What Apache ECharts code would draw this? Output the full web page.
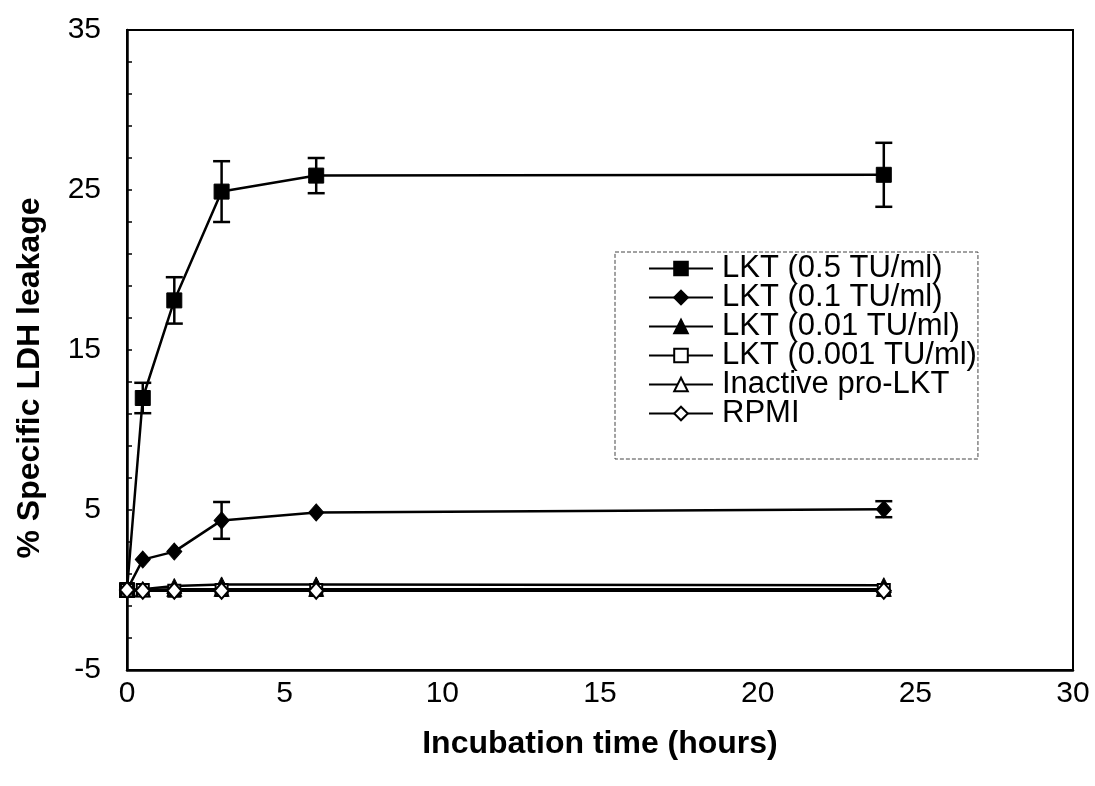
<!DOCTYPE html>
<html>
<head>
<meta charset="utf-8">
<title>Specific LDH leakage over incubation time</title>
<script src="https://cdn.jsdelivr.net/npm/echarts@6/dist/echarts.min.js"></script>
<style>
  html, body { margin: 0; padding: 0; background: #fff; }
  #chart { width: 1095px; height: 786px; }
</style>
</head>
<body>
<div id="chart"></div>
<script>
// Incubation times (hours)
const timeHours = [0, 0.5, 1.5, 3, 6, 24];

// % specific LDH leakage per treatment
const lkt05 = [0, 12.0, 18.1, 24.9, 25.9, 25.95];
const lkt05Err = [0, 0.95, 1.45, 1.9, 1.1, 2.0];
const lkt01 = [0, 1.9, 2.4, 4.35, 4.85, 5.05];
const lkt01Err = [0, 0, 0, 1.15, 0, 0.5];
const lkt001 = [0, 0.05, 0.25, 0.35, 0.35, 0.3];
const lkt0001 = [0, 0, -0.05, 0, 0, 0];
const proLkt = [0, 0, 0.05, 0.05, 0.05, 0.05];
const rpmi = [0, -0.05, -0.05, -0.05, -0.05, -0.05];

const seriesNames = [
  'LKT (0.5 TU/ml)',
  'LKT (0.1 TU/ml)',
  'LKT (0.01 TU/ml)',
  'LKT (0.001 TU/ml)',
  'Inactive pro-LKT',
  'RPMI'
];

// Axis tick labels and tick marks
const xTickLabels = [0, 5, 10, 15, 20, 25, 30];
const yTickLabels = [-5, 5, 15, 25, 35];
const yTickMarks = [-5, -3, -1, 1, 3, 5, 7, 9, 11, 13, 15, 17, 19, 21, 23, 25, 27, 29, 31, 33, 35];

const FONT = 'Liberation Sans, Arial, Helvetica, sans-serif';

function pairs(values) {
  return timeHours.map((t, i) => [t, values[i]]);
}

function errData(values, errs) {
  return timeHours.map((t, i) => [t, values[i], errs[i]]).filter(d => d[2] > 0);
}

// Vertical error bar with horizontal caps
function renderErrorBar(params, api) {
  const x = api.value(0);
  const y = api.value(1);
  const e = api.value(2);
  const hi = api.coord([x, y + e]);
  const lo = api.coord([x, y - e]);
  const cap = 8.5;
  const style = { stroke: '#000', lineWidth: 2.5 };
  return {
    type: 'group',
    children: [
      { type: 'line', shape: { x1: hi[0], y1: hi[1], x2: lo[0], y2: lo[1] }, style },
      { type: 'line', shape: { x1: hi[0] - cap, y1: hi[1], x2: hi[0] + cap, y2: hi[1] }, style },
      { type: 'line', shape: { x1: lo[0] - cap, y1: lo[1], x2: lo[0] + cap, y2: lo[1] }, style }
    ]
  };
}

function lineSeries(name, values, symbol, size, filled, z) {
  return {
    name,
    type: 'line',
    data: pairs(values),
    symbol,
    symbolSize: size,
    showAllSymbol: true,
    z,
    lineStyle: { color: '#000', width: 2.5 },
    itemStyle: filled
      ? { color: '#000', borderColor: '#000', borderWidth: 1 }
      : { color: '#fff', borderColor: '#000', borderWidth: 2 },
    emphasis: { disabled: true }
  };
}

const chart = echarts.init(document.getElementById('chart'));

chart.setOption({
  animation: false,
  backgroundColor: '#fff',
  grid: {
    left: 127, right: 22, top: 30, bottom: 116,
    show: true, borderColor: '#000', borderWidth: 2
  },
  xAxis: {
    type: 'value',
    min: 0, max: 30, interval: 5,
    axisLine: { onZero: false, lineStyle: { color: '#000', width: 2.5 } },
    axisTick: { show: false },
    splitLine: { show: false },
    axisLabel: {
      customValues: xTickLabels,
      color: '#000', fontFamily: FONT, fontSize: 30, margin: 9
    },
    name: 'Incubation time (hours)',
    nameLocation: 'middle',
    nameGap: 58,
    nameTextStyle: { color: '#000', fontFamily: FONT, fontSize: 32, fontWeight: 'bold' }
  },
  yAxis: {
    type: 'value',
    min: -5, max: 35,
    axisLine: { onZero: false, lineStyle: { color: '#000', width: 2.5 } },
    axisTick: {
      show: true, inside: true, length: 5,
      customValues: yTickMarks,
      lineStyle: { color: '#000', width: 1.5 }
    },
    splitLine: { show: false },
    axisLabel: {
      customValues: yTickLabels,
      color: '#000', fontFamily: FONT, fontSize: 30, margin: 26
    }
  },
  graphic: [{
    type: 'text',
    x: 30, y: 378,
    rotation: Math.PI / 2,
    style: {
      text: '% Specific LDH leakage',
      font: 'bold 32px ' + FONT,
      fill: '#000',
      align: 'center',
      verticalAlign: 'middle'
    }
  }],
  legend: {
    data: seriesNames,
    orient: 'vertical',
    left: 615, top: 252,
    padding: [1, 1, 30, 33],
    itemWidth: 64, itemHeight: 17,
    itemGap: -2,
    borderColor: '#444', borderWidth: 1, borderType: [4, 2],
    backgroundColor: '#fff',
    selectedMode: false,
    textStyle: { color: '#000', fontFamily: FONT, fontSize: 31, lineHeight: 26, padding: [0, 0, 0, 4] }
  },
  series: [
    {
      type: 'custom',
      renderItem: renderErrorBar,
      data: errData(lkt05, lkt05Err),
      encode: { x: 0, y: [1, 2] },
      z: 1,
      silent: true
    },
    {
      type: 'custom',
      renderItem: renderErrorBar,
      data: errData(lkt01, lkt01Err),
      encode: { x: 0, y: [1, 2] },
      z: 1,
      silent: true
    },
    lineSeries(seriesNames[0], lkt05, 'rect', 15, true, 3),
    lineSeries(seriesNames[1], lkt01, 'diamond', [15, 17], true, 3),
    lineSeries(seriesNames[2], lkt001, 'triangle', 15, true, 3),
    lineSeries(seriesNames[3], lkt0001, 'rect', 12, false, 4),
    lineSeries(seriesNames[4], proLkt, 'triangle', 13, false, 5),
    lineSeries(seriesNames[5], rpmi, 'diamond', [14, 16], false, 6)
  ]
});
</script>
</body>
</html>
